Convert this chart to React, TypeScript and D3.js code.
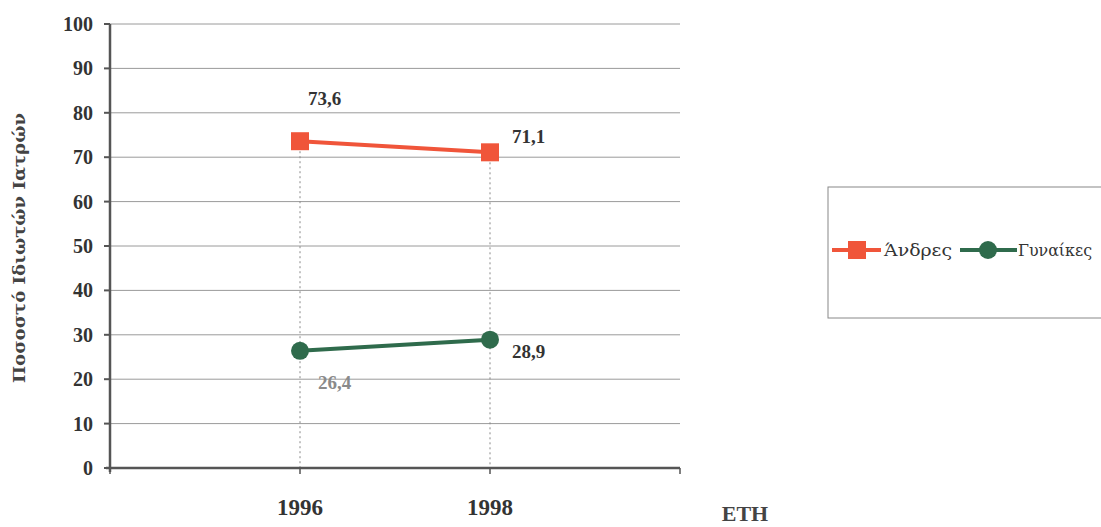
import React from "react";
import * as d3 from "d3";

const years = ["1996", "1998"];
const menValues = [73.6, 71.1];
const womenValues = [26.4, 28.9];
const menLabels = ["73,6", "71,1"];
const womenLabels = ["26,4", "28,9"];
const yTicks = [0, 10, 20, 30, 40, 50, 60, 70, 80, 90, 100];

const W = 1101;
const H = 527;
const left = 110;
const right = 680;
const top = 24;
const bottom = 468;
const FONT = "'Liberation Serif', 'DejaVu Serif', serif";
const GREEK_FONT = "'DejaVu Serif', 'Liberation Serif', serif";
const RED = "#f0553a";
const GREEN = "#2f6b4c";

export default function App() {
  const x = d3.scalePoint<string>().domain(years).range([left, right]).padding(1);
  const y = d3.scaleLinear().domain([0, 100]).range([bottom, top]);
  const line = d3
    .line<number>()
    .x((_, i) => x(years[i]) as number)
    .y((d) => y(d));

  const xTickPos = [left, ...years.map((c) => x(c) as number), right];

  return (
    <svg
      width={W}
      height={H}
      style={{ position: "absolute", left: 0, top: 0, background: "#fff" }}
      fontFamily={FONT}
    >
      {/* gridlines */}
      {yTicks.slice(1).map((t) => (
        <line key={t} x1={left} x2={right} y1={y(t)} y2={y(t)} stroke="#9a9a9a" strokeWidth={1} />
      ))}
      {/* drop lines */}
      {years.map((c, i) => (
        <line
          key={c}
          x1={x(c)}
          x2={x(c)}
          y1={y(Math.max(menValues[i], womenValues[i]))}
          y2={bottom}
          stroke="#888"
          strokeWidth={1}
          strokeDasharray="2,3"
        />
      ))}
      {/* axes */}
      <line x1={left} x2={left} y1={top} y2={bottom + 4} stroke="#555" strokeWidth={2.5} />
      <line x1={left - 4} x2={right} y1={bottom} y2={bottom} stroke="#555" strokeWidth={2.5} />
      {yTicks.map((t) => (
        <g key={t}>
          <line x1={left - 6} x2={left} y1={y(t)} y2={y(t)} stroke="#555" strokeWidth={2} />
          <text
            x={93}
            y={y(t)}
            dy="0.35em"
            textAnchor="end"
            fontSize={20}
            fontWeight="bold"
            fill="#333"
          >
            {t}
          </text>
        </g>
      ))}
      {xTickPos.map((p, i) => (
        <line key={i} x1={p} x2={p} y1={bottom} y2={bottom + 6} stroke="#555" strokeWidth={1.5} />
      ))}
      {years.map((c) => (
        <text key={c} x={x(c)} y={515} textAnchor="middle" fontSize={23} fontWeight="bold" fill="#333">
          {c}
        </text>
      ))}
      <text x={745} y={521} textAnchor="middle" fontSize={22} fontWeight="bold" fill="#444">
        ΕΤΗ
      </text>
      <text
        transform={`translate(25,248) rotate(-90)`}
        textAnchor="middle"
        fontSize={17}
        fontWeight="bold"
        fill="#444"
        fontFamily={GREEK_FONT}
        textLength={270}
        lengthAdjust="spacingAndGlyphs"
      >
        Ποσοστό Ιδιωτών Ιατρών
      </text>

      {/* series */}
      <path d={line(menValues) ?? ""} fill="none" stroke={RED} strokeWidth={4} />
      <path d={line(womenValues) ?? ""} fill="none" stroke={GREEN} strokeWidth={4} />
      {menValues.map((v, i) => (
        <rect
          key={i}
          x={(x(years[i]) as number) - 9}
          y={y(v) - 9}
          width={18}
          height={18}
          fill={RED}
        />
      ))}
      {womenValues.map((v, i) => (
        <circle key={i} cx={x(years[i]) as number} cy={y(v)} r={9} fill={GREEN} />
      ))}
      {/* data labels */}
      <text x={(x(years[0]) as number) + 8} y={y(menValues[0]) - 36} fontSize={19} fontWeight="bold" fill="#333">
        {menLabels[0]}
      </text>
      <text x={(x(years[1]) as number) + 22} y={y(menValues[1]) - 9} fontSize={19} fontWeight="bold" fill="#333">
        {menLabels[1]}
      </text>
      <text x={(x(years[0]) as number) + 18} y={y(womenValues[0]) + 38} fontSize={19} fontWeight="bold" fill="#8a8a8a">
        {womenLabels[0]}
      </text>
      <text x={(x(years[1]) as number) + 22} y={y(womenValues[1]) + 18} fontSize={19} fontWeight="bold" fill="#333">
        {womenLabels[1]}
      </text>

      {/* legend */}
      <rect x={828} y={187} width={290} height={131} fill="#fff" stroke="#888" strokeWidth={1} />
      <line x1={832} x2={881} y1={250} y2={250} stroke={RED} strokeWidth={4} />
      <rect x={848} y={241} width={18} height={18} fill={RED} />
      <text x={884} y={256} fontSize={17} fill="#333" fontFamily={GREEK_FONT} textLength={68} lengthAdjust="spacingAndGlyphs">
        Άνδρες
      </text>
      <line x1={960} x2={1017} y1={250} y2={250} stroke={GREEN} strokeWidth={4} />
      <circle cx={988} cy={250} r={9} fill={GREEN} />
      <text x={1018} y={256} fontSize={17} fill="#333" fontFamily={GREEK_FONT} textLength={74} lengthAdjust="spacingAndGlyphs">
        Γυναίκες
      </text>
    </svg>
  );
}
